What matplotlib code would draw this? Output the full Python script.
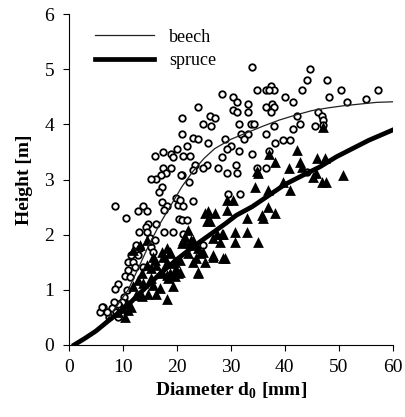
import matplotlib
matplotlib.use("Agg")
import matplotlib.pyplot as plt

plt.rcParams['font.family'] = ['Liberation Serif', 'DejaVu Serif']
plt.rcParams['mathtext.fontset'] = 'custom'
plt.rcParams['mathtext.rm'] = 'Liberation Serif'
plt.rcParams['mathtext.bf'] = 'Liberation Serif:bold'

# beech observations (diameter mm, height m)
beech_x = [33.9, 34.9, 36.5, 37.4, 38.0, 37.1, 28.3, 30.4, 31.2, 33.1, 23.9, 30.4, 31.2, 33.1,
           36.5, 37.7, 38.0, 37.4, 26.1, 27.0, 20.9, 24.9, 26.4, 31.5, 33.7, 34.3, 38.0, 20.9,
           31.9, 33.1, 32.5, 36.5, 23.0, 23.9, 28.9, 25.8, 21.8, 30.1, 29.2, 31.5, 34.0, 38.1,
           21.2, 22.4, 28.3, 23.3, 25.5, 24.9, 22.9, 27.6, 31.0, 29.2, 31.2, 20.9, 22.3, 29.5,
           31.7, 36.5, 44.6, 44.1, 47.8, 43.2, 50.4, 40.0, 41.5, 48.1, 51.6, 55.1, 57.3, 42.2,
           46.2, 46.8, 47.1, 47.0, 45.6, 42.8, 41.5, 39.7, 40.9, 44.1, 37.1, 34.9, 15.9, 17.4,
           18.9, 20.1, 19.3, 17.4, 18.9, 18.0, 17.0, 16.1, 15.2, 20.7, 17.2, 16.7, 8.6, 12.8,
           13.8, 14.4, 10.6, 17.3, 18.1, 17.6, 19.8, 20.2, 20.4, 14.7, 16.1, 14.3, 13.0, 14.4,
           17.6, 19.2, 15.0, 15.9, 12.5, 13.1, 15.3, 15.6, 11.6, 12.8, 11.0, 11.9, 12.2, 13.8,
           11.0, 10.4, 11.3, 9.1, 8.6, 10.7, 10.2, 9.9, 9.1, 8.3, 7.9, 8.8, 6.4, 5.7,
           7.4, 9.1, 7.0, 6.2, 22.9, 21.1, 20.6, 20.9, 21.9, 21.1, 24.9]
beech_y = [5.04, 4.62, 4.62, 4.70, 4.62, 4.62, 4.55, 4.50, 4.41, 4.37, 4.31, 4.26, 4.22, 4.22,
           4.31, 4.37, 4.31, 4.22, 4.15, 4.12, 4.12, 4.00, 3.97, 4.00, 4.00, 4.00, 3.97, 3.82,
           3.82, 3.82, 3.73, 3.82, 3.76, 3.73, 3.73, 3.67, 3.61, 3.61, 3.56, 3.51, 3.47, 3.67,
           3.43, 3.43, 3.41, 3.26, 3.26, 3.20, 3.17, 3.20, 3.26, 3.11, 3.11, 3.08, 2.96, 2.73,
           2.73, 3.20, 5.01, 4.80, 4.80, 4.62, 4.62, 4.50, 4.41, 4.50, 4.41, 4.47, 4.62, 4.15,
           4.22, 4.15, 4.08, 3.99, 3.97, 4.00, 3.91, 3.72, 3.72, 3.13, 3.51, 3.20, 3.43, 3.50,
           3.47, 3.56, 3.41, 3.20, 3.20, 3.11, 3.08, 3.01, 3.01, 3.08, 2.87, 2.78, 2.52, 2.43,
           2.52, 2.43, 2.31, 2.60, 2.52, 2.45, 2.67, 2.54, 2.28, 2.20, 2.20, 2.13, 2.04, 2.04,
           2.04, 2.04, 1.93, 1.90, 1.82, 1.75, 1.78, 1.69, 1.63, 1.63, 1.51, 1.51, 1.41, 1.41,
           1.36, 1.25, 1.23, 1.11, 1.01, 1.00, 0.86, 0.78, 0.75, 0.78, 0.66, 0.59, 0.69, 0.60,
           0.51, 0.50, 0.60, 0.68, 2.61, 2.52, 2.63, 2.26, 2.26, 2.02, 1.81]

# spruce observations
spruce_x = [29.2, 30.4, 36.9, 38.1, 35.7, 36.0, 25.8, 27.0, 25.2, 25.5, 26.1, 29.2, 32.9, 22.1,
            23.0, 21.2, 22.4, 27.4, 28.6, 26.7, 28.0, 30.7, 32.9, 30.7, 35.1, 23.9, 24.9, 24.3,
            26.7, 28.6, 23.0, 25.2, 20.6, 23.9, 35.1, 45.7, 45.2, 50.8, 46.8, 47.7, 34.4, 36.9,
            39.7, 40.9, 28.3, 28.9, 47.1, 42.3, 38.1, 46.0, 47.4, 42.8, 43.1, 40.7, 37.1, 34.9,
            20.9, 17.2, 18.7, 17.5, 15.9, 18.1, 19.6, 20.6, 14.4, 15.3, 13.5, 17.2, 19.6, 18.4,
            12.8, 13.8, 15.6, 11.9, 16.9, 16.2, 18.1, 19.3, 14.7, 13.5, 10.7, 11.6, 9.1, 9.8,
            10.4, 11.0, 12.5, 15.3, 16.9, 18.1, 19.6, 20.2, 23.6, 26.7, 23.9, 19.3, 19.9, 18.7,
            16.2, 15.6, 18.7, 18.1, 14.4, 13.1, 11.9, 22.1, 21.5, 22.7, 23.0]
spruce_y = [2.63, 2.63, 2.51, 2.39, 2.36, 2.30, 2.42, 2.39, 2.39, 2.24, 2.24, 2.45, 2.30, 2.08,
            1.90, 1.90, 1.84, 2.02, 2.02, 1.93, 1.87, 2.05, 2.05, 1.87, 1.87, 1.75, 1.69, 1.66,
            1.63, 1.57, 1.51, 1.51, 1.33, 1.33, 3.11, 3.11, 3.05, 3.08, 2.96, 2.96, 2.87, 2.81,
            2.96, 2.81, 2.02, 1.57, 3.96, 3.54, 3.32, 3.39, 3.39, 3.32, 3.23, 3.20, 3.47, 3.15,
            1.84, 1.69, 1.69, 1.60, 1.54, 1.51, 1.51, 1.54, 1.45, 1.39, 1.30, 1.33, 1.36, 1.21,
            1.18, 1.12, 1.09, 1.06, 1.03, 0.93, 0.84, 1.06, 0.93, 0.88, 0.76, 0.69, 0.60, 0.66,
            0.51, 0.63, 0.91, 1.21, 1.30, 1.27, 1.25, 1.30, 1.57, 1.60, 1.30, 1.48, 1.36, 1.30,
            1.45, 1.60, 1.66, 1.75, 1.90, 1.81, 1.72, 1.66, 1.96, 1.90, 1.81]

# fitted curves
beech_fit_x = [1, 3, 5, 7, 9, 11, 13, 15, 17, 19, 21, 23, 25, 27, 30, 33, 36, 39, 42, 45, 48, 51, 54, 57, 60]
beech_fit_y = [0, 0.10, 0.25, 0.45, 0.72, 1.00, 1.42, 1.85, 2.22, 2.55, 2.88, 3.15, 3.38, 3.56, 3.73,
               3.85, 3.97, 4.08, 4.17, 4.25, 4.30, 4.34, 4.37, 4.40, 4.41]
spruce_fit_x = [1, 3, 5, 7.5, 10.5, 13.5, 17, 20, 23, 26, 29, 31, 34, 37, 40, 43, 46.5, 49.5, 52.5, 55.5, 60]
spruce_fit_y = [0, 0.12, 0.25, 0.45, 0.68, 0.97, 1.30, 1.55, 1.78, 1.99, 2.20, 2.35, 2.51, 2.71, 2.91,
                3.06, 3.23, 3.41, 3.56, 3.71, 3.90]

fig = plt.figure(figsize=(4.05, 4.17), dpi=100)
ax = fig.add_axes([0.170, 0.173, 0.800, 0.793])

ax.scatter(beech_x, beech_y, s=22, facecolors='white', edgecolors='black', linewidths=1.3, zorder=3)
ax.scatter(spruce_x, spruce_y, s=60, marker='^', color='black', linewidths=0, zorder=3)
ax.plot(beech_fit_x, beech_fit_y, color='#222222', lw=0.9, label='beech', zorder=4)
ax.plot(spruce_fit_x, spruce_fit_y, color='black', lw=3.4, label='spruce', zorder=4)

ax.set_xlim(0, 60)
ax.set_ylim(0, 6)
ax.set_xticks(range(0, 61, 10))
ax.set_yticks(range(0, 7))
for s in ['top', 'right']:
    ax.spines[s].set_visible(False)
ax.tick_params(direction='out', length=4.5, pad=6, labelsize=14)
ax.set_xlabel(r'Diameter d$_\mathbf{0}$ [mm]', fontsize=14, fontweight='bold', labelpad=3)
ax.set_ylabel('Height [m]', fontsize=14, fontweight='bold', labelpad=8)

ax.legend(loc='upper left', bbox_to_anchor=(0.03, 1.005), frameon=False, fontsize=13,
          handlelength=3.3, labelspacing=0.35)

fig.savefig('out.png', dpi=100)
